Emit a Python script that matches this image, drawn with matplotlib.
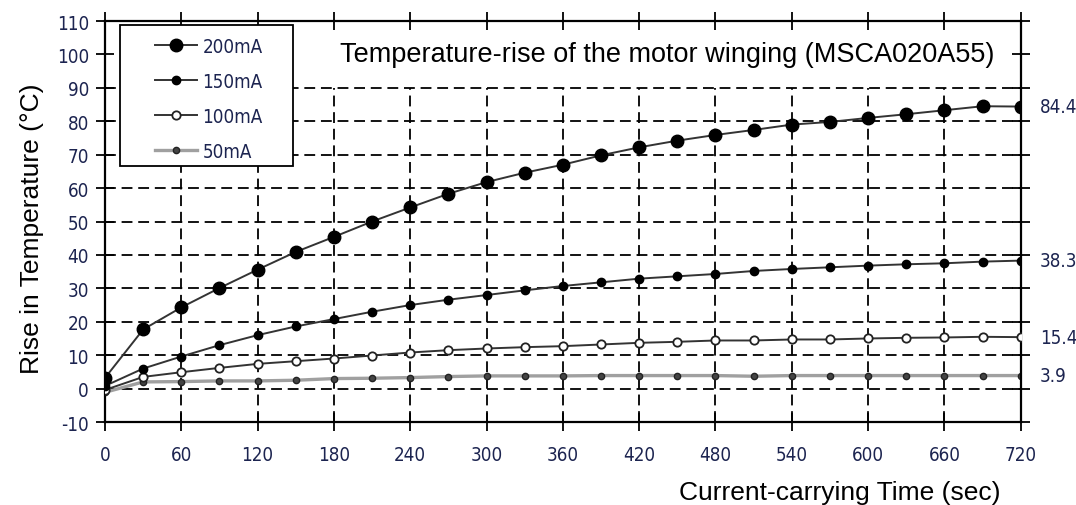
import matplotlib
matplotlib.use('Agg')
import matplotlib.pyplot as plt
from matplotlib.patches import Rectangle

plt.rcParams['axes.unicode_minus'] = False

# Time axis (sec) and temperature rise per current (deg C)
t_sec = [0, 30, 60, 90, 120, 150, 180, 210, 240, 270, 300, 330, 360,
         390, 420, 450, 480, 510, 540, 570, 600, 630, 660, 690, 720]
rise_200 = [3.2, 17.7, 24.3, 30.1, 35.6, 40.9, 45.4, 50.0, 54.2, 58.3, 61.8, 64.6, 67.0,
            69.8, 72.2, 74.2, 75.9, 77.4, 79.0, 79.8, 81.0, 82.1, 83.3, 84.5, 84.4]
rise_150 = [0.8, 6.0, 9.6, 13.0, 16.0, 18.6, 20.8, 23.0, 25.0, 26.6, 28.0, 29.4, 30.7,
            31.8, 32.9, 33.6, 34.3, 35.2, 35.8, 36.3, 36.8, 37.2, 37.5, 38.0, 38.3]
rise_100 = [-0.4, 3.5, 4.9, 6.2, 7.4, 8.2, 9.0, 9.9, 10.8, 11.5, 12.0, 12.4, 12.7,
            13.2, 13.7, 14.0, 14.4, 14.4, 14.7, 14.7, 15.0, 15.2, 15.3, 15.5, 15.4]
rise_50 = [-1.1, 2.0, 2.1, 2.3, 2.3, 2.5, 3.0, 3.1, 3.3, 3.6, 3.8, 3.8, 3.8,
           3.9, 3.9, 3.9, 3.9, 3.7, 3.9, 3.9, 3.9, 3.9, 3.9, 3.9, 3.9]
series_labels = ['200mA', '150mA', '100mA', '50mA']
end_labels = ['84.4', '38.3', '15.4', '3.9']

x_ticks = list(range(0, 721, 60))
y_ticks = list(range(-10, 111, 10))

num_color = '#1c2450'
num_size = 13.5

fig = plt.figure(figsize=(10.76, 5.06), dpi=100)
ax = fig.add_axes([0.0976, 0.164, 0.851, 0.7925])

# dashed grid, only up to 90 (the band above is left blank)
grid_kw = dict(colors='black', linestyles=(0, (6, 3.2)), linewidth=1.3, zorder=1)
ax.hlines([y for y in y_ticks if -10 < y <= 90], 0, 720, **grid_kw)
ax.vlines([x for x in x_ticks if 0 < x < 720], -10, 90, **grid_kw)

ax.plot(t_sec, rise_200, color='#333333', lw=1.4, marker='o', ms=9,
        mfc='black', mec='black', label=series_labels[0], zorder=5)
ax.plot(t_sec, rise_150, color='#333333', lw=1.4, marker='o', ms=6,
        mfc='black', mec='black', label=series_labels[1], zorder=4)
ax.plot(t_sec, rise_100, color='#333333', lw=1.4, marker='o', ms=6,
        mfc='white', mec='#222222', mew=1.3, label=series_labels[2], zorder=3)
ax.plot(t_sec, rise_50, color='#a0a0a0', lw=2.4, marker='o', ms=4.5,
        mfc='#444444', mec='#222222', label=series_labels[3], zorder=2)

for val, txt in zip([rise_200[-1], rise_150[-1], rise_100[-1], rise_50[-1]], end_labels):
    ax.annotate(txt, (t_sec[-1], val), xytext=(14, 0), textcoords='offset points',
                va='center', ha='left', fontsize=num_size, color=num_color,
                family='DejaVu Sans', fontstretch='condensed', annotation_clip=False)

ax.set_xlim(0, 720)
ax.set_ylim(-10, 110)
ax.set_xticks(x_ticks)
ax.set_yticks(y_ticks)
ax.tick_params(direction='inout', length=13, width=1.3, top=True, right=True,
               labelsize=num_size, labelcolor=num_color)
ax.tick_params(axis='x', pad=10)
ax.tick_params(axis='y', pad=5)
for lab in ax.get_xticklabels() + ax.get_yticklabels():
    lab.set_fontfamily('DejaVu Sans')
    lab.set_fontstretch('condensed')
for sp in ax.spines.values():
    sp.set_linewidth(1.6)

ax.set_ylabel('Rise in Temperature (°C)', fontsize=19, family='Liberation Sans', va='center')
ax.yaxis.set_label_coords(-0.08, 0.485)
ax.set_xlabel('Current-carrying Time (sec)', fontsize=19, family='Liberation Sans',
              ha='right', va='top')
ax.xaxis.set_label_coords(0.978, -0.145)

ax.text(0.6135, 0.918, 'Temperature-rise of the motor winging (MSCA020A55)',
        transform=ax.transAxes, ha='center', va='center', fontsize=19.5,
        family='Liberation Sans', zorder=6)

# legend frame drawn separately so the padding matches the original box
ax.add_patch(Rectangle((0.0164, 0.638), 0.1888, 0.352, transform=ax.transAxes,
                       facecolor='white', edgecolor='black', lw=1.3, zorder=9))
leg = ax.legend(loc='upper left', bbox_to_anchor=(0.055, 0.96), frameon=False,
                borderpad=0, labelspacing=0.85, handlelength=2.2, handletextpad=0.3,
                borderaxespad=0,
                prop=dict(family='DejaVu Sans', stretch='condensed', size=num_size))
leg.set_zorder(10)
for txt in leg.get_texts():
    txt.set_color(num_color)

fig.savefig('out.png', dpi=100)
